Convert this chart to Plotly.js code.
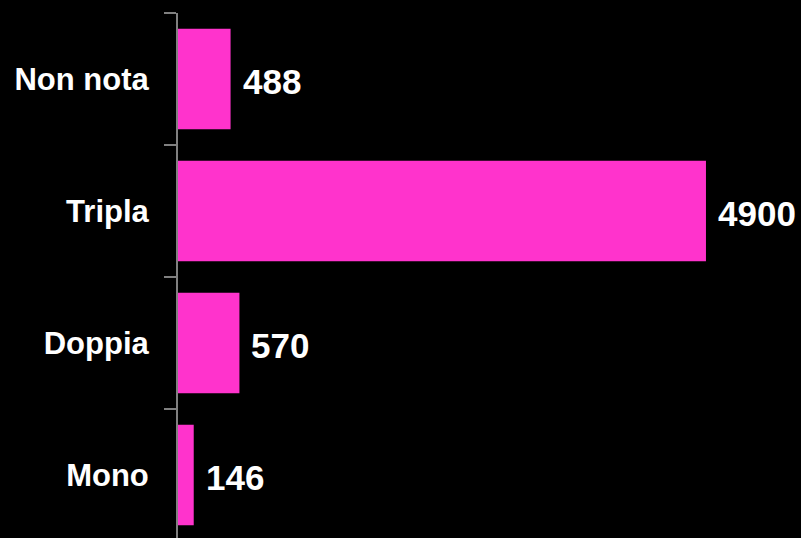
<!DOCTYPE html>
<html>
<head>
<meta charset="utf-8">
<script src="https://cdn.plot.ly/plotly-3.0.1.min.js"></script>
<style>
html,body{margin:0;padding:0;background:#000;overflow:hidden;}
#chart{width:801px;height:538px;}
</style>
</head>
<body>
<div id="chart"></div>
<script>
var categories = ['Mono', 'Doppia', 'Tripla', 'Non nota'];
var values = [146, 570, 4900, 488];
var valueLabels = ['146', '570', '4900', '488'];

var trace = {
  type: 'bar',
  orientation: 'h',
  y: categories,
  x: values,
  marker: {color: '#FF33CC', line: {width: 0}},
  hoverinfo: 'none'
};

var annotations = categories.map(function (c, i) {
  return {
    x: values[i], y: c, xref: 'x', yref: 'y',
    text: valueLabels[i], showarrow: false,
    xanchor: 'left', yanchor: 'middle', xshift: 10, yshift: -2,
    font: {family: 'Liberation Sans, Arial, sans-serif', size: 35, color: '#FFFFFF', weight: 'bold'}
  };
});

var layout = {
  width: 801, height: 538,
  margin: {l: 178, r: 0, t: 13, b: 0, pad: 0},
  paper_bgcolor: '#000000', plot_bgcolor: '#000000',
  showlegend: false,
  bargap: 0.24,
  xaxis: {visible: false, range: [0, 5782], showgrid: false, zeroline: false},
  yaxis: {
    type: 'category',
    range: [-0.477, 3.5],
    showline: true, linecolor: '#808080', linewidth: 2,
    ticks: 'outside', tickson: 'boundaries', ticklen: 12, tickwidth: 2, tickcolor: '#808080',
    ticklabelstandoff: 21,
    showgrid: false, zeroline: false,
    tickfont: {family: 'Liberation Sans, Arial, sans-serif', size: 31, color: '#FFFFFF', weight: 'bold'}
  },
  annotations: annotations
};

Plotly.newPlot('chart', [trace], layout, {displayModeBar: false, staticPlot: true});
</script>
</body>
</html>
